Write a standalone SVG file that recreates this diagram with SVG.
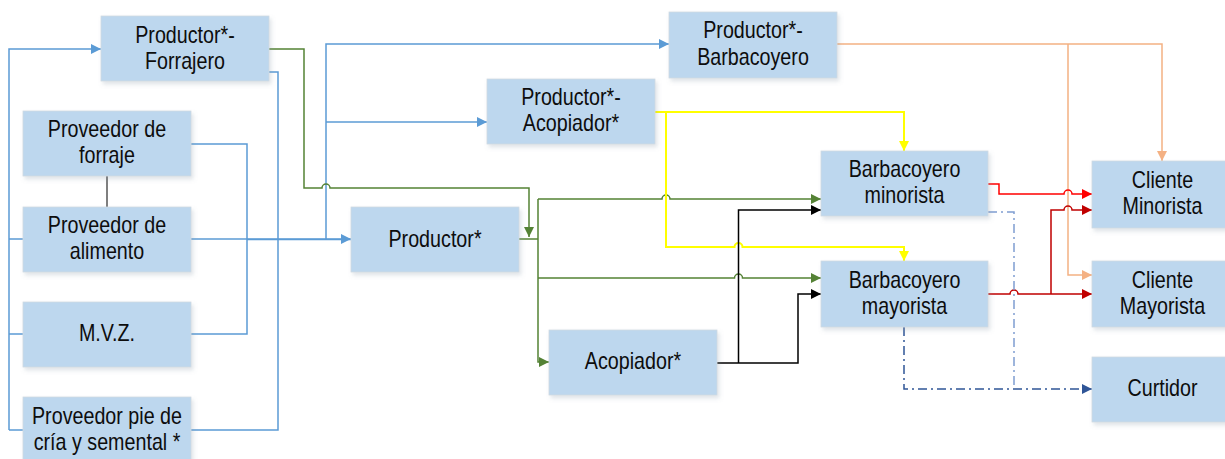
<svg xmlns="http://www.w3.org/2000/svg" width="1225" height="459" viewBox="0 0 1225 459">
  <style>
    .box { fill: #bdd7ee; stroke: #d0d9e2; stroke-width: 0.8; filter: url(#shadow); }
    .lbl { font-family: "Liberation Sans", Arial, sans-serif; font-size: 23px; fill: #0d0d0d; text-anchor: middle; }
    .ln { fill: none; stroke-width: 1.5; }
    .blue { stroke: #5b9bd5; }
    .green { stroke: #548235; }
    .yellow { stroke: #ffff00; stroke-width: 2; }
    .black { stroke: #000000; }
    .red { stroke: #ff0000; }
    .dred { stroke: #c00000; }
    .orange { stroke: #f4b183; }
    .gray { stroke: #7f7f7f; stroke-width: 2; }
    .dd1 { stroke: #7f9dd1; stroke-dasharray: 9 4 2 4; }
    .dd2 { stroke: #2f5597; stroke-dasharray: 9 4 2 4; }
  </style>
  <defs>
    <filter id="shadow" x="-10%" y="-10%" width="125%" height="135%">
      <feDropShadow dx="2" dy="3" stdDeviation="2" flood-color="#7f8fa0" flood-opacity="0.25"/>
    </filter>
    <marker id="mk-blue" viewBox="0 0 10 10" refX="10" refY="5" markerWidth="11" markerHeight="10" markerUnits="userSpaceOnUse" orient="auto"><path d="M0,0 L10,5 L0,10 z" fill="#5b9bd5"/></marker>
    <marker id="mk-green" viewBox="0 0 10 10" refX="10" refY="5" markerWidth="11" markerHeight="10" markerUnits="userSpaceOnUse" orient="auto"><path d="M0,0 L10,5 L0,10 z" fill="#548235"/></marker>
    <marker id="mk-yellow" viewBox="0 0 10 10" refX="10" refY="5" markerWidth="11" markerHeight="10" markerUnits="userSpaceOnUse" orient="auto"><path d="M0,0 L10,5 L0,10 z" fill="#ffff00"/></marker>
    <marker id="mk-black" viewBox="0 0 10 10" refX="10" refY="5" markerWidth="11" markerHeight="10" markerUnits="userSpaceOnUse" orient="auto"><path d="M0,0 L10,5 L0,10 z" fill="#000000"/></marker>
    <marker id="mk-red" viewBox="0 0 10 10" refX="10" refY="5" markerWidth="11" markerHeight="10" markerUnits="userSpaceOnUse" orient="auto"><path d="M0,0 L10,5 L0,10 z" fill="#ff0000"/></marker>
    <marker id="mk-dred" viewBox="0 0 10 10" refX="10" refY="5" markerWidth="11" markerHeight="10" markerUnits="userSpaceOnUse" orient="auto"><path d="M0,0 L10,5 L0,10 z" fill="#c00000"/></marker>
    <marker id="mk-orange" viewBox="0 0 10 10" refX="10" refY="5" markerWidth="11" markerHeight="10" markerUnits="userSpaceOnUse" orient="auto"><path d="M0,0 L10,5 L0,10 z" fill="#f4b183"/></marker>
    <marker id="mk-navy" viewBox="0 0 10 10" refX="10" refY="5" markerWidth="11" markerHeight="10" markerUnits="userSpaceOnUse" orient="auto"><path d="M0,0 L10,5 L0,10 z" fill="#2f5597"/></marker>
  </defs>

  <rect width="1225" height="459" fill="#ffffff"/>

  <!-- connectors -->
  <g id="connectors">
    <!-- suppliers to producers (blue) -->
    <path class="ln blue" d="M9,430 V49 H101" marker-end="url(#mk-blue)"/>
    <path class="ln blue" d="M9,239 H23 M9,334 H23 M9,430 H23"/>
    <path class="ln blue" d="M191,144 H247 V334 H191"/>
    <path class="ln blue" d="M269,72 H278 V430 H191"/>
    <path class="ln blue" d="M191,239 H351" marker-end="url(#mk-blue)"/>
    <path class="ln blue" d="M247,239.5 H351" stroke-width="1"/>
    <path class="ln blue" d="M326,239 V44 H669" marker-end="url(#mk-blue)"/>
    <path class="ln blue" d="M326,122 H487" marker-end="url(#mk-blue)"/>

    <!-- green -->
    <path class="ln green" d="M269,49 H304 V188 H322 a4,4 0 0 1 8,0 H529 V237" marker-end="url(#mk-green)"/>
    <path class="ln green" d="M519,239 H538"/>
    <path class="ln green" d="M538,199 V362 H549" marker-end="url(#mk-green)"/>
    <path class="ln green" d="M538,199 H662 a4,4 0 0 1 8,0 H821" marker-end="url(#mk-green)"/>
    <path class="ln green" d="M538,278 H734.5 a4,4 0 0 1 8,0 H821" marker-end="url(#mk-green)"/>

    <!-- yellow -->
    <path class="ln yellow" d="M655,112 H904 V151" marker-end="url(#mk-yellow)"/>
    <path class="ln yellow" d="M666,112 V247 H734.5 a4,4 0 0 1 8,0 H904 V261" marker-end="url(#mk-yellow)"/>

    <!-- black -->
    <path class="ln black" d="M717,363 H798 V294 H821" marker-end="url(#mk-black)"/>
    <path class="ln black" d="M738.5,363 V210 H821" marker-end="url(#mk-black)"/>

    <!-- orange -->
    <path class="ln orange" d="M837,44 H1162 V161" marker-end="url(#mk-orange)"/>
    <path class="ln orange" d="M1068,44 V275 H1092" marker-end="url(#mk-orange)"/>

    <!-- red -->
    <path class="ln red" d="M988,184 H999 V194 H1064 a4,4 0 0 1 8,0 H1092" marker-end="url(#mk-red)"/>
    <path class="ln dred" d="M988,294 H1010 a4,4 0 0 1 8,0 H1092" marker-end="url(#mk-dred)"/>
    <path class="ln dred" d="M1051,294 V210 H1064 a4,4 0 0 1 8,0 H1092" marker-end="url(#mk-dred)"/>

    <!-- dash-dot to Curtidor -->
    <path class="ln dd1" d="M988,212 H1014 V389"/>
    <path class="ln dd2" d="M904,327 V389 H1092" marker-end="url(#mk-navy)"/>

    <!-- gray link between suppliers -->
    <path class="ln gray" d="M107,176 V207"/>
  </g>

  <!-- nodes -->
  <g id="n-prod-forrajero">
    <rect class="box" x="101" y="16" width="168" height="65"/>
    <text class="lbl" transform="translate(185,0) scale(.857,1)"><tspan x="0" y="43">Productor*-</tspan><tspan x="0" y="69">Forrajero</tspan></text>
  </g>
  <g id="n-prov-forraje">
    <rect class="box" x="23" y="111" width="168" height="65"/>
    <text class="lbl" transform="translate(107,0) scale(.857,1)"><tspan x="0" y="137">Proveedor de</tspan><tspan x="0" y="163">forraje</tspan></text>
  </g>
  <g id="n-prov-alimento">
    <rect class="box" x="23" y="207" width="168" height="65"/>
    <text class="lbl" transform="translate(107,0) scale(.857,1)"><tspan x="0" y="233.5">Proveedor de</tspan><tspan x="0" y="259.5">alimento</tspan></text>
  </g>
  <g id="n-mvz">
    <rect class="box" x="23" y="302" width="168" height="65"/>
    <text class="lbl" transform="translate(107,0) scale(.857,1)"><tspan x="0" y="341.5">M.V.Z.</tspan></text>
  </g>
  <g id="n-prov-pie-cria">
    <rect class="box" x="23" y="397" width="168" height="65"/>
    <text class="lbl" transform="translate(107,0) scale(.857,1)"><tspan x="0" y="424">Proveedor pie de</tspan><tspan x="0" y="450">cría y semental *</tspan></text>
  </g>
  <g id="n-productor">
    <rect class="box" x="351" y="207" width="168" height="65"/>
    <text class="lbl" transform="translate(435,0) scale(.857,1)"><tspan x="0" y="247">Productor*</tspan></text>
  </g>
  <g id="n-prod-acopiador">
    <rect class="box" x="487" y="79" width="168" height="65"/>
    <text class="lbl" transform="translate(571,0) scale(.857,1)"><tspan x="0" y="105.5">Productor*-</tspan><tspan x="0" y="131.5">Acopiador*</tspan></text>
  </g>
  <g id="n-prod-barbacoyero">
    <rect class="box" x="669" y="12" width="168" height="66"/>
    <text class="lbl" transform="translate(753,0) scale(.857,1)"><tspan x="0" y="38.5">Productor*-</tspan><tspan x="0" y="65">Barbacoyero</tspan></text>
  </g>
  <g id="n-barb-minorista">
    <rect class="box" x="821" y="151" width="167" height="65"/>
    <text class="lbl" transform="translate(904.5,0) scale(.857,1)"><tspan x="0" y="177.5">Barbacoyero</tspan><tspan x="0" y="203.5">minorista</tspan></text>
  </g>
  <g id="n-barb-mayorista">
    <rect class="box" x="821" y="261" width="167" height="66"/>
    <text class="lbl" transform="translate(904.5,0) scale(.857,1)"><tspan x="0" y="288">Barbacoyero</tspan><tspan x="0" y="314">mayorista</tspan></text>
  </g>
  <g id="n-acopiador">
    <rect class="box" x="549" y="330" width="168" height="65"/>
    <text class="lbl" transform="translate(633,0) scale(.857,1)"><tspan x="0" y="369.5">Acopiador*</tspan></text>
  </g>
  <g id="n-cli-minorista">
    <rect class="box" x="1092" y="161" width="141" height="67"/>
    <text class="lbl" transform="translate(1162.5,0) scale(.857,1)"><tspan x="0" y="188.5">Cliente</tspan><tspan x="0" y="214.5">Minorista</tspan></text>
  </g>
  <g id="n-cli-mayorista">
    <rect class="box" x="1092" y="261" width="141" height="66"/>
    <text class="lbl" transform="translate(1162.5,0) scale(.857,1)"><tspan x="0" y="288">Cliente</tspan><tspan x="0" y="314">Mayorista</tspan></text>
  </g>
  <g id="n-curtidor">
    <rect class="box" x="1092" y="357" width="141" height="65"/>
    <text class="lbl" transform="translate(1162.5,0) scale(.857,1)"><tspan x="0" y="396">Curtidor</tspan></text>
  </g>
</svg>
